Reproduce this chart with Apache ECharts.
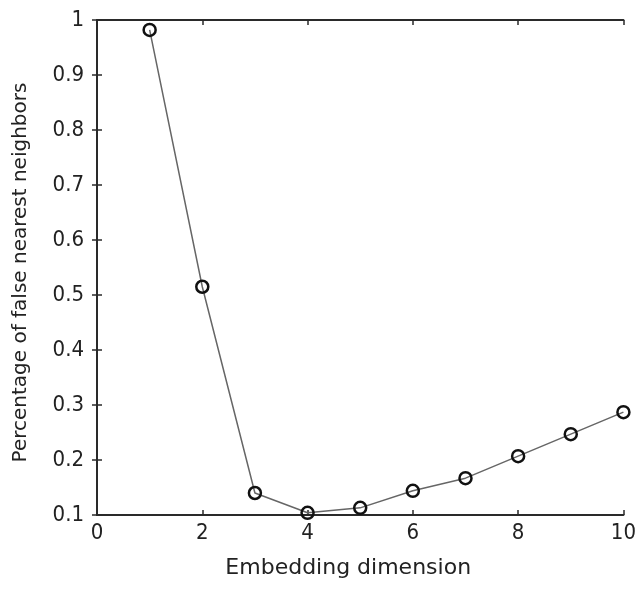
<!DOCTYPE html>
<html><head><meta charset="utf-8">
<script src="https://cdn.jsdelivr.net/npm/echarts@6/dist/echarts.min.js"></script>
<style>html,body{margin:0;padding:0;background:#fff}#c{width:639px;height:590px}</style>
</head><body><div id="c"></div>
<script>
const dims = [1, 2, 3, 4, 5, 6, 7, 8, 9, 10];
const fnnPct = [0.982, 0.515, 0.14, 0.104, 0.113, 0.144, 0.167, 0.207, 0.247, 0.287];
const xTicks = [0, 2, 4, 6, 8, 10];
const yTicks = [0.1, 0.2, 0.3, 0.4, 0.5, 0.6, 0.7, 0.8, 0.9, 1];
const font = '"DejaVu Sans Condensed", "Liberation Sans Narrow", "Liberation Sans", sans-serif';
const nameFont = '"DejaVu Sans", "Liberation Sans", sans-serif';
const chart = echarts.init(document.getElementById('c'));
const axisLine = {show: true, lineStyle: {color: '#2a2a2a', width: 2}};
const tickIn = {show: true, inside: true, length: 5, lineStyle: {color: '#2a2a2a', width: 1.5}};
chart.setOption({
  animation: false,
  grid: {left: 97, right: 10, top: 20, bottom: 75},
  xAxis: [{
    type: 'value', min: 0, max: 10, interval: 2,
    name: 'Embedding dimension', nameLocation: 'middle', nameGap: 42,
    nameTextStyle: {fontFamily: nameFont, fontSize: 22, color: '#222', padding: [0, 24, 0, 0]},
    axisLine: axisLine, axisTick: tickIn, splitLine: {show: false},
    axisLabel: {fontFamily: font, fontSize: 22, color: '#222', margin: 7,
      formatter: v => String(Math.round(v))}
  }, {
    type: 'value', min: 0, max: 10, interval: 2, position: 'top',
    axisLine: axisLine, axisTick: tickIn, splitLine: {show: false}, axisLabel: {show: false}
  }],
  yAxis: [{
    type: 'value', min: 0.1, max: 1, interval: 0.1,
    name: 'Percentage of false nearest neighbors', nameLocation: 'middle', nameGap: 66,
    nameTextStyle: {fontFamily: nameFont, fontSize: 20, color: '#222', padding: [0, 10, 0, 0]},
    axisLine: axisLine, axisTick: tickIn, splitLine: {show: false},
    axisLabel: {fontFamily: font, fontSize: 22, color: '#222', margin: 13,
      formatter: v => (Math.abs(v - 1) < 1e-9 ? '1' : v.toFixed(1))}
  }, {
    type: 'value', min: 0.1, max: 1, interval: 0.1, position: 'right',
    axisLine: axisLine, axisTick: tickIn, splitLine: {show: false}, axisLabel: {show: false}
  }],
  series: [{
    type: 'line',
    data: dims.map((d, i) => [d, fnnPct[i]]),
    lineStyle: {color: '#666', width: 1.5},
    symbol: 'circle', symbolSize: 12,
    itemStyle: {color: 'rgba(255,255,255,0)', borderColor: '#111', borderWidth: 2.5},
    z: 3
  }]
});
</script></body></html>
